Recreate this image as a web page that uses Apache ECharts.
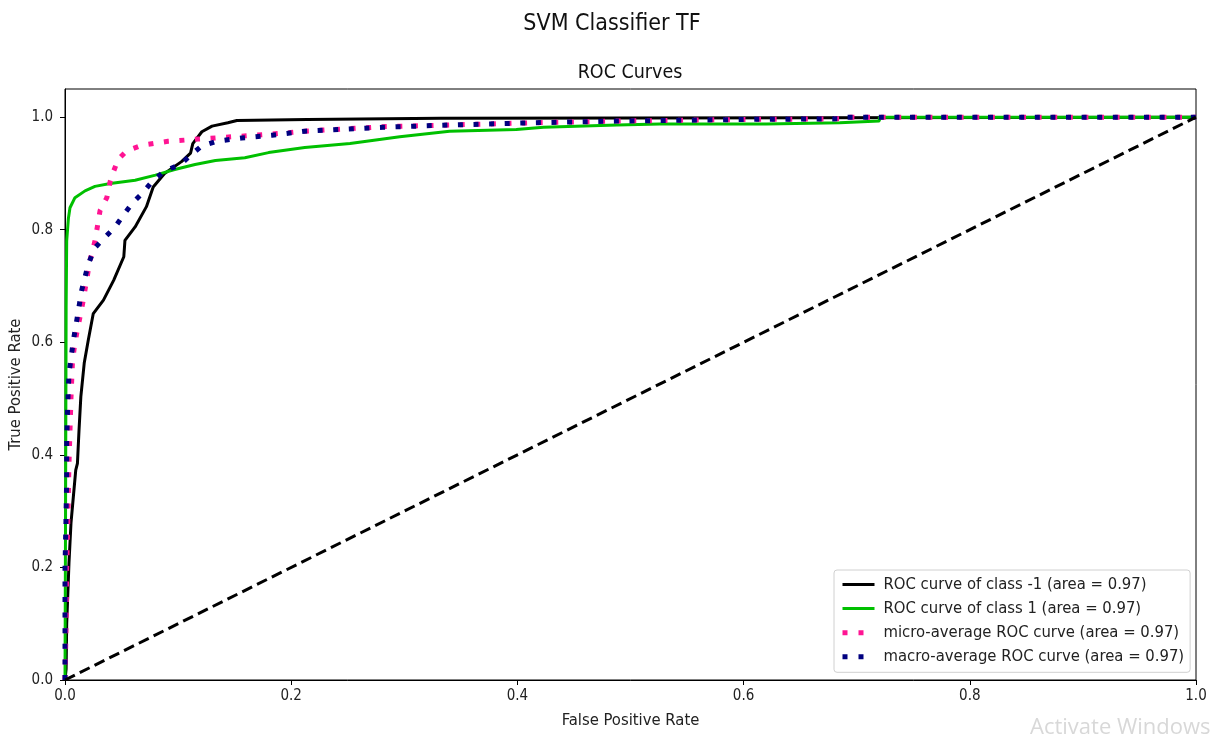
<!DOCTYPE html>
<html>
<head>
<meta charset="utf-8">
<script src="https://cdn.jsdelivr.net/npm/echarts@6/dist/echarts.min.js"></script>
<style>
  html, body { margin: 0; padding: 0; background: #fff; }
  #chart { width: 1214px; height: 734px; }
</style>
</head>
<body>
<div id="chart"></div>
<script>
// ROC curves of the SVM classifier (TF features)
const FONT = "'DejaVu Sans Condensed', 'DejaVu Sans', sans-serif";

const tickValues = [0, 0.2, 0.4, 0.6, 0.8, 1.0];

// class -1
const classNegFpr = [0, 0.001, 0.0015, 0.0024, 0.0035, 0.0053, 0.0074, 0.0095, 0.011, 0.0124, 0.014, 0.017, 0.0206, 0.025, 0.034, 0.043, 0.052, 0.053, 0.062, 0.072, 0.078, 0.088, 0.103, 0.111, 0.113, 0.121, 0.13, 0.144, 0.152, 0.214, 0.214, 0.332, 0.332, 1.0];
const classNegTpr = [0, 0.02, 0.1, 0.148, 0.207, 0.279, 0.326, 0.373, 0.385, 0.444, 0.503, 0.563, 0.604, 0.651, 0.675, 0.71, 0.752, 0.781, 0.805, 0.841, 0.876, 0.9, 0.921, 0.936, 0.953, 0.974, 0.984, 0.99, 0.994, 0.996, 0.998, 0.998, 1.0, 1.0];

// class 1
const classPosFpr = [0, 0.0005, 0.001, 0.0015, 0.003, 0.0044, 0.0088, 0.0177, 0.0265, 0.04, 0.062, 0.08, 0.097, 0.115, 0.133, 0.159, 0.18, 0.212, 0.252, 0.296, 0.34, 0.399, 0.423, 0.488, 0.526, 0.62, 0.62, 0.685, 0.685, 0.72, 0.72, 1.0];
const classPosTpr = [0, 0.3, 0.66, 0.78, 0.82, 0.839, 0.857, 0.869, 0.877, 0.882, 0.888, 0.897, 0.907, 0.916, 0.923, 0.928, 0.937, 0.946, 0.953, 0.965, 0.975, 0.978, 0.982, 0.986, 0.988, 0.988, 0.99, 0.99, 0.993, 0.993, 1.0, 1.0];

// micro-average
const microFpr = [0, 0.001, 0.0015, 0.0023, 0.0035, 0.0044, 0.0053, 0.0065, 0.0082, 0.0103, 0.016, 0.022, 0.0265, 0.031, 0.037, 0.04, 0.043, 0.047, 0.0545, 0.068, 0.091, 0.118, 0.147, 0.183, 0.212, 0.281, 0.34, 0.414, 0.488, 0.606, 0.685, 0.69, 1.0];
const microTpr = [0, 0.1, 0.2, 0.265, 0.384, 0.443, 0.502, 0.561, 0.591, 0.615, 0.673, 0.745, 0.78, 0.834, 0.857, 0.886, 0.904, 0.925, 0.94, 0.95, 0.957, 0.961, 0.965, 0.97, 0.975, 0.983, 0.986, 0.99, 0.993, 0.996, 0.997, 1.0, 1.0];

// macro-average
const macroFpr = [0, 0, 0.0008, 0.0015, 0.0015, 0.0023, 0.0035, 0.0074, 0.0118, 0.0147, 0.0206, 0.0265, 0.035, 0.044, 0.052, 0.06, 0.069, 0.078, 0.088, 0.102, 0.112, 0.121, 0.134, 0.156, 0.183, 0.212, 0.281, 0.34, 0.414, 0.488, 0.606, 0.685, 0.69, 1.0];
const macroTpr = [0, 0.2, 0.278, 0.36, 0.425, 0.484, 0.544, 0.603, 0.656, 0.692, 0.739, 0.768, 0.786, 0.804, 0.827, 0.848, 0.866, 0.888, 0.904, 0.916, 0.934, 0.949, 0.957, 0.963, 0.968, 0.975, 0.982, 0.986, 0.99, 0.993, 0.996, 0.997, 1.0, 1.0];

// chance line
const chanceFpr = [0, 1];
const chanceTpr = [0, 1];

const names = [
  'ROC curve of class -1 (area = 0.97)',
  'ROC curve of class 1 (area = 0.97)',
  'micro-average ROC curve (area = 0.97)',
  'macro-average ROC curve (area = 0.97)'
];
const colors = ['#000000', '#00c000', '#ff1493', '#000080'];

const SOLID = { width: 3, type: 'solid' };
const DOTTED = { width: 5, type: [5, 10.6], cap: 'butt' };
const styles = [SOLID, SOLID, DOTTED, DOTTED];
// shorter legend swatch shows two dots
const legendStyles = [SOLID, SOLID, { width: 5, type: [5, 11], cap: 'butt' }, { width: 5, type: [5, 11], cap: 'butt' }];

const pairs = (xs, ys) => xs.map((x, i) => [x, ys[i]]);

const chart = echarts.init(document.getElementById('chart'), null, { renderer: 'canvas' });

const axisCommon = {
  type: 'value',
  min: 0,
  interval: 0.2,
  splitLine: { show: false },
  axisLine: { show: true, onZero: false, lineStyle: { color: '#000', width: 1 } },
  axisTick: { show: true, inside: false, length: 5, customValues: tickValues, lineStyle: { color: '#000', width: 1 } },
  axisLabel: {
    customValues: tickValues,
    formatter: v => v.toFixed(1),
    color: '#222', fontFamily: FONT, fontSize: 15
  },
  nameLocation: 'middle',
  nameMoveOverlap: false,
  nameTextStyle: { color: '#222', fontFamily: FONT, fontSize: 16.5 }
};

const rocSeries = names.map((name, i) => ({
  name: name, type: 'line', symbol: 'none', z: i < 2 ? 2 : i + 1,
  lineStyle: Object.assign({ color: colors[i] }, styles[i]),
  itemStyle: { color: colors[i] },
  data: [
    pairs(classNegFpr, classNegTpr),
    pairs(classPosFpr, classPosTpr),
    pairs(microFpr, microTpr),
    pairs(macroFpr, macroTpr)
  ][i]
}));

chart.setOption({
  animation: false,
  backgroundColor: '#fff',
  title: [
    { text: 'SVM Classifier TF', left: 612, top: 13, textAlign: 'center', padding: 0,
      textStyle: { fontFamily: FONT, fontSize: 23, fontWeight: 'normal', color: '#111' } },
    { text: 'ROC Curves', left: 630, top: 63, textAlign: 'center', padding: 0,
      textStyle: { fontFamily: FONT, fontSize: 19.5, fontWeight: 'normal', color: '#111' } }
  ],
  grid: {
    left: 65, right: 18, top: 89, bottom: 54,
    outerBoundsMode: 'none', containLabel: false,
    show: true, borderColor: '#000', borderWidth: 1, backgroundColor: 'transparent'
  },
  xAxis: Object.assign({}, axisCommon, {
    max: 1,
    name: 'False Positive Rate',
    nameGap: 32,
    axisLabel: Object.assign({}, axisCommon.axisLabel, { margin: 9 })
  }),
  yAxis: Object.assign({}, axisCommon, {
    max: 1.05,
    name: 'True Positive Rate',
    nameGap: 41,
    axisLabel: Object.assign({}, axisCommon.axisLabel, { margin: 12 })
  }),
  legend: {
    data: names.map((name, i) => ({
      name: name,
      itemStyle: { opacity: 0 },
      lineStyle: Object.assign({ color: colors[i] }, legendStyles[i])
    })),
    orient: 'vertical',
    left: 834, top: 570,
    padding: [6, 6, 7, 6],
    itemWidth: 32, itemHeight: 14, itemGap: 7.1,
    borderColor: '#d0d0d0', borderWidth: 1, borderRadius: 3,
    backgroundColor: 'rgba(255,255,255,0.8)',
    textStyle: { fontFamily: FONT, fontSize: 16.5, color: '#222', lineHeight: 16, padding: [0, 0, 0, 4] },
    selectedMode: false
  },
  series: rocSeries.concat([
    {
      name: 'chance', type: 'line', symbol: 'none', z: 6,
      lineStyle: { color: '#000', width: 3, type: [11, 5.5] },
      data: pairs(chanceFpr, chanceTpr)
    }
  ]),
  graphic: [
    {
      type: 'text', left: 1030, top: 717, silent: true,
      style: { text: 'Activate Windows', fontFamily: "'Open Sans', 'DejaVu Sans', sans-serif", fontSize: 22, fill: '#d8d8d8' }
    }
  ]
});
</script>
</body>
</html>
